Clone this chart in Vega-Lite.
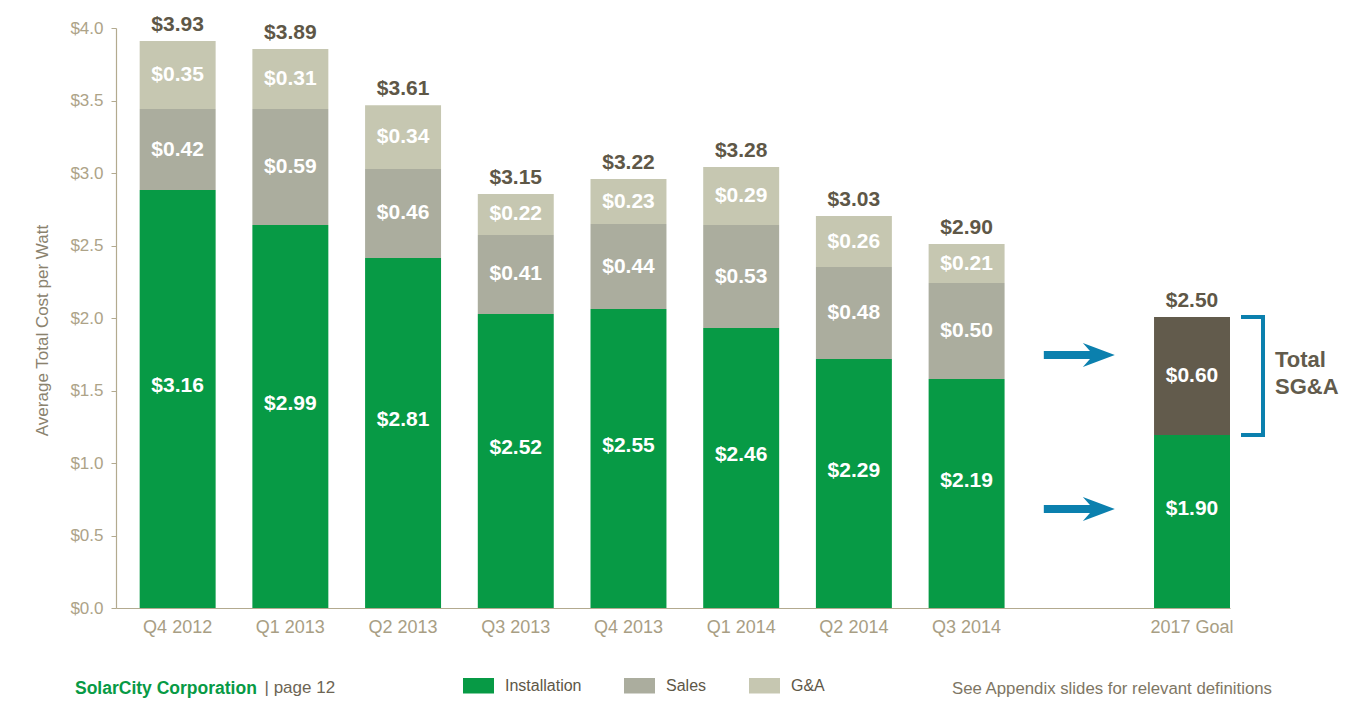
{
  "$schema": "https://vega.github.io/schema/vega-lite/v6.json",
  "width": 1114,
  "height": 580,
  "autosize": "none",
  "padding": {"left": 116, "top": 28, "right": 125, "bottom": 96},
  "background": "white",
  "title": {
    "text": "SolarCity Corporation",
    "orient": "bottom",
    "anchor": "start",
    "frame": "group",
    "dx": -41,
    "offset": -4,
    "baseline": "alphabetic",
    "color": "#079A45",
    "fontSize": 17.5,
    "fontWeight": "bold"
  },
  "datasets": {
    "costs": [
      {"period": "Q4 2012", "component": "Installation", "value": 2.883, "cost": 3.16, "total": 3.93},
      {"period": "Q4 2012", "component": "Sales", "value": 0.558, "cost": 0.42, "total": 3.93},
      {"period": "Q4 2012", "component": "G&A", "value": 0.469, "cost": 0.35, "total": 3.93},
      {"period": "Q1 2013", "component": "Installation", "value": 2.641, "cost": 2.99, "total": 3.89},
      {"period": "Q1 2013", "component": "Sales", "value": 0.800, "cost": 0.59, "total": 3.89},
      {"period": "Q1 2013", "component": "G&A", "value": 0.414, "cost": 0.31, "total": 3.89},
      {"period": "Q2 2013", "component": "Installation", "value": 2.414, "cost": 2.81, "total": 3.61},
      {"period": "Q2 2013", "component": "Sales", "value": 0.614, "cost": 0.46, "total": 3.61},
      {"period": "Q2 2013", "component": "G&A", "value": 0.439, "cost": 0.34, "total": 3.61},
      {"period": "Q3 2013", "component": "Installation", "value": 2.028, "cost": 2.52, "total": 3.15},
      {"period": "Q3 2013", "component": "Sales", "value": 0.545, "cost": 0.41, "total": 3.15},
      {"period": "Q3 2013", "component": "G&A", "value": 0.283, "cost": 0.22, "total": 3.15},
      {"period": "Q4 2013", "component": "Installation", "value": 2.062, "cost": 2.55, "total": 3.22},
      {"period": "Q4 2013", "component": "Sales", "value": 0.586, "cost": 0.44, "total": 3.22},
      {"period": "Q4 2013", "component": "G&A", "value": 0.310, "cost": 0.23, "total": 3.22},
      {"period": "Q1 2014", "component": "Installation", "value": 1.931, "cost": 2.46, "total": 3.28},
      {"period": "Q1 2014", "component": "Sales", "value": 0.710, "cost": 0.53, "total": 3.28},
      {"period": "Q1 2014", "component": "G&A", "value": 0.400, "cost": 0.29, "total": 3.28},
      {"period": "Q2 2014", "component": "Installation", "value": 1.717, "cost": 2.29, "total": 3.03},
      {"period": "Q2 2014", "component": "Sales", "value": 0.634, "cost": 0.48, "total": 3.03},
      {"period": "Q2 2014", "component": "G&A", "value": 0.352, "cost": 0.26, "total": 3.03},
      {"period": "Q3 2014", "component": "Installation", "value": 1.579, "cost": 2.19, "total": 2.90},
      {"period": "Q3 2014", "component": "Sales", "value": 0.662, "cost": 0.50, "total": 2.90},
      {"period": "Q3 2014", "component": "G&A", "value": 0.269, "cost": 0.21, "total": 2.90},
      {"period": "2017 Goal", "component": "Installation", "value": 1.193, "cost": 1.90, "total": 2.50},
      {"period": "2017 Goal", "component": "SG&A", "value": 0.814, "cost": 0.60, "total": 2.50}
    ],
    "arrows": [
      {"period": " ", "level": 1.745},
      {"period": " ", "level": 0.683}
    ],
    "bracket": [
      {"period": "2017 Goal", "low": 1.193, "high": 2.007}
    ],
    "notes": [
      {"period": "2017 Goal", "level": 1.662, "note": "Total\nSG&A"}
    ]
  },
  "encoding": {
    "x": {
      "field": "period",
      "type": "nominal",
      "sort": null,
      "scale": {
        "domain": ["Q4 2012", "Q1 2013", "Q2 2013", "Q3 2013", "Q4 2013", "Q1 2014", "Q2 2014", "Q3 2014", " ", "2017 Goal"],
        "paddingInner": 0.326,
        "paddingOuter": 0.105,
        "align": 1
      },
      "axis": {
        "title": "| page 12",
        "titleX": 148,
        "titleY": 84,
        "titleAnchor": "start",
        "titleAlign": "left",
        "titleBaseline": "alphabetic",
        "titleColor": "#6D6554",
        "titleFontSize": 17,
        "titleFontWeight": "normal",
        "labelColor": "#A89E84",
        "labelFontSize": 18,
        "labelPadding": 10,
        "labelAngle": 0,
        "ticks": false,
        "domainColor": "#B3AA8F",
        "domainWidth": 1.2
      }
    }
  },
  "layer": [
    {
      "data": {"name": "costs"},
      "transform": [
        {"calculate": "indexof(['Installation','Sales','G&A','SG&A'], datum.component)", "as": "ord"},
        {"stack": "value", "groupby": ["period"], "sort": [{"field": "ord", "order": "ascending"}], "as": ["y0", "y1"]},
        {"calculate": "(datum.y0 + datum.y1) / 2", "as": "ymid"}
      ],
      "layer": [
        {
          "mark": {"type": "bar", "strokeWidth": 0},
          "encoding": {
            "y": {
              "field": "y1",
              "type": "quantitative",
              "scale": {"domain": [0, 4]},
              "axis": {
                "title": "Average Total Cost per Watt",
                "values": [0, 0.5, 1, 1.5, 2, 2.5, 3, 3.5, 4],
                "format": "$.1f",
                "grid": false,
                "labelFontSize": 17,
                "labelColor": "#ADA388",
                "labelPadding": 8,
                "tickSize": 5,
                "tickColor": "#B3AA8F",
                "domainColor": "#B3AA8F",
                "domainWidth": 1.2,
                "titleFontSize": 17,
                "titleFontWeight": "normal",
                "titleColor": "#8A826E",
                "titlePadding": 18,
                "titleY": 302
              }
            },
            "y2": {"field": "y0"},
            "color": {
              "field": "component",
              "type": "nominal",
              "scale": {
                "domain": ["Installation", "Sales", "G&A", "SG&A"],
                "range": ["#079A45", "#ABAD9E", "#C6C7B1", "#625B4C"]
              },
              "legend": {
                "orient": "none",
                "legendX": 347,
                "legendY": 642,
                "direction": "horizontal",
                "values": ["Installation", "Sales", "G&A"],
                "title": "See Appendix slides for relevant definitions",
                "titleOrient": "right",
                "titlePadding": 127,
                "titleLimit": 500,
                "titleFontSize": 16.8,
                "titleFontWeight": "normal",
                "titleColor": "#7E7664",
                "titleBaseline": "alphabetic",
                "titleAnchor": "end",
                "symbolType": "M-1,-0.5H1V0.5H-1Z",
                "symbolSize": 961,
                "symbolStrokeWidth": 0,
                "labelFontSize": 16,
                "labelColor": "#5E5747",
                "labelOffset": 11,
                "columnPadding": 42,
                "padding": 0
              }
            }
          }
        },
        {
          "transform": [{"filter": "datum.component === 'Installation'"}],
          "mark": {"type": "text", "color": "white", "fontSize": 21, "fontWeight": "bold", "dy": -13},
          "encoding": {
            "y": {"field": "ymid", "type": "quantitative"},
            "text": {"field": "cost", "type": "quantitative", "format": "$.2f"}
          }
        },
        {
          "transform": [{"filter": "datum.component !== 'Installation'"}],
          "mark": {"type": "text", "color": "white", "fontSize": 21, "fontWeight": "bold"},
          "encoding": {
            "y": {"field": "ymid", "type": "quantitative"},
            "text": {"field": "cost", "type": "quantitative", "format": "$.2f"}
          }
        }
      ]
    },
    {
      "data": {"name": "costs"},
      "transform": [
        {"aggregate": [{"op": "sum", "field": "value", "as": "top"}], "groupby": ["period", "total"]}
      ],
      "mark": {"type": "text", "baseline": "alphabetic", "dy": -10, "fontSize": 21, "fontWeight": "bold", "color": "#5E5747"},
      "encoding": {
        "y": {"field": "top", "type": "quantitative"},
        "text": {"field": "total", "type": "quantitative", "format": "$.2f"}
      }
    },
    {
      "data": {"name": "arrows"},
      "mark": {
        "type": "point",
        "shape": "M-1,-0.113L0.3,-0.113L0.1,-0.338L1,0L0.1,0.338L0.3,0.113L-1,0.113Z",
        "size": 5041,
        "filled": true,
        "color": "#0B80AE",
        "opacity": 1,
        "strokeWidth": 0
      },
      "encoding": {
        "y": {"field": "level", "type": "quantitative"}
      }
    },
    {
      "data": {"name": "bracket"},
      "layer": [
        {
          "mark": {"type": "rule", "color": "#0B80AE", "strokeWidth": 4, "strokeCap": "square", "xOffset": 71},
          "encoding": {
            "y": {"field": "low", "type": "quantitative"},
            "y2": {"field": "high"}
          }
        },
        {
          "mark": {"type": "tick", "color": "#0B80AE", "thickness": 4, "size": 24, "xOffset": 61, "opacity": 1},
          "encoding": {
            "y": {"field": "low", "type": "quantitative"}
          }
        },
        {
          "mark": {"type": "tick", "color": "#0B80AE", "thickness": 4, "size": 24, "xOffset": 61, "opacity": 1},
          "encoding": {
            "y": {"field": "high", "type": "quantitative"}
          }
        }
      ]
    },
    {
      "data": {"name": "notes"},
      "mark": {
        "type": "text",
        "align": "left",
        "baseline": "alphabetic",
        "lineBreak": "\n",
        "lineHeight": 27,
        "xOffset": 83,
        "fontSize": 22,
        "fontWeight": "bold",
        "color": "#625B4C"
      },
      "encoding": {
        "y": {"field": "level", "type": "quantitative"},
        "text": {"field": "note", "type": "nominal"}
      }
    }
  ],
  "config": {
    "font": "Liberation Sans",
    "view": {"stroke": null}
  }
}
